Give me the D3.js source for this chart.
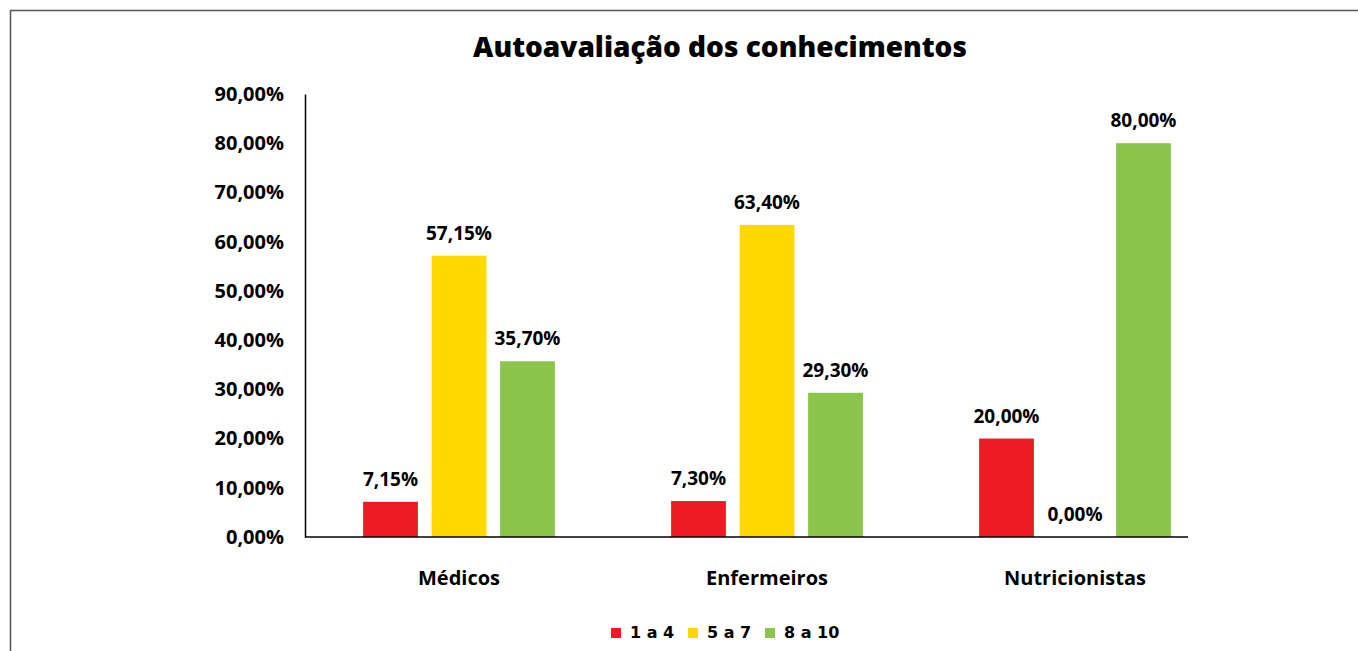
<!DOCTYPE html>
<html lang="pt">

<head>
    <meta charset="UTF-8">
    <title>Autoavaliação dos conhecimentos</title>
    <script src="https://d3js.org/d3.v7.min.js"></script>
    <style>
        body { margin: 0; background: #fff; }
    </style>
</head>

<body>
    <div id="chart"></div>

    <script>
        // data
        const groups = ["Médicos", "Enfermeiros", "Nutricionistas"];
        const seriesNames = ["1 a 4", "5 a 7", "8 a 10"];
        const val1a4 = [7.15, 7.30, 20.00];
        const val5a7 = [57.15, 63.40, 0.00];
        const val8a10 = [35.70, 29.30, 80.00];
        const yTicks = [0, 10, 20, 30, 40, 50, 60, 70, 80, 90];
        const colors = ["#ed1c24", "#ffd800", "#8cc54c"];

        const seriesValues = [val1a4, val5a7, val8a10];

        const width = 1358;
        const height = 651;
        const fontMain = "'Open Sans', sans-serif";

        const svg = d3.select("#chart")
            .append("svg")
            .attr("width", width)
            .attr("height", height)
            .attr("font-family", fontMain);

        // frame round the figure (runs off the right and bottom edges)
        svg.append("rect")
            .attr("x", 10.5)
            .attr("y", 10.5)
            .attr("width", width + 20)
            .attr("height", height + 20)
            .attr("fill", "none")
            .attr("stroke", "#555")
            .attr("stroke-width", 1.5);

        // title
        svg.append("text")
            .attr("x", 720)
            .attr("y", 57)
            .attr("text-anchor", "middle")
            .attr("font-size", 28)
            .attr("font-weight", 800)
            .text("Autoavaliação dos conhecimentos");

        // scales
        const x0 = d3.scaleBand()
            .domain(groups)
            .range([305, 1229]);

        const x1 = d3.scaleBand()
            .domain(seriesNames)
            .range([0, 205.5])
            .paddingInner(0.2)
            .paddingOuter(0.1);

        const y = d3.scaleLinear()
            .domain([0, 90])
            .range([537, 94]);

        const fmt = v => d3.format(".2f")(v).replace(".", ",") + "%";

        // y axis
        const yAxis = svg.append("g")
            .attr("transform", "translate(305,0)")
            .call(d3.axisLeft(y).tickValues(yTicks).tickSize(0).tickPadding(21).tickFormat(fmt));
        yAxis.select(".domain").attr("stroke", "#000").attr("stroke-width", 1.5);
        yAxis.selectAll("text")
            .attr("font-family", fontMain)
            .attr("font-size", 20)
            .attr("font-weight", 700)
            .attr("fill", "#000");

        // bars
        const rows = groups.map((g, i) => ({
            group: g,
            values: seriesNames.map((s, j) => ({ key: s, idx: j, value: seriesValues[j][i] }))
        }));

        const gGroup = svg.append("g")
            .selectAll("g")
            .data(rows)
            .join("g")
            .attr("transform", d => `translate(${x0(d.group) + x0.bandwidth() / 2 - 102.75},0)`);

        gGroup.selectAll("rect")
            .data(d => d.values)
            .join("rect")
            .attr("x", d => x1(d.key))
            .attr("y", d => y(d.value))
            .attr("width", x1.bandwidth())
            .attr("height", d => y(0) - y(d.value))
            .attr("fill", d => colors[d.idx]);

        gGroup.selectAll("text")
            .data(d => d.values)
            .join("text")
            .attr("x", d => x1(d.key) + x1.bandwidth() / 2)
            .attr("y", d => y(d.value) - 16)
            .attr("text-anchor", "middle")
            .attr("font-size", 19)
            .attr("font-weight", 700)
            .text(d => fmt(d.value));

        // x axis line
        svg.append("line")
            .attr("x1", 305)
            .attr("x2", 1188)
            .attr("y1", y(0))
            .attr("y2", y(0))
            .attr("stroke", "#000")
            .attr("stroke-width", 1.5);

        // category labels
        svg.append("g")
            .selectAll("text")
            .data(groups)
            .join("text")
            .attr("x", d => x0(d) + x0.bandwidth() / 2)
            .attr("y", 585)
            .attr("text-anchor", "middle")
            .attr("font-size", 20)
            .attr("font-weight", 700)
            .text(d => d);

        // legend
        const legendX = [611, 688, 765];
        const legend = svg.append("g")
            .selectAll("g")
            .data(seriesNames)
            .join("g")
            .attr("transform", (d, i) => `translate(${legendX[i]},628)`);

        legend.append("rect")
            .attr("width", 10)
            .attr("height", 10)
            .attr("fill", (d, i) => colors[i]);

        legend.append("text")
            .attr("x", 19)
            .attr("y", 10)
            .attr("font-family", "'DejaVu Sans', sans-serif")
            .attr("font-size", 16)
            .attr("font-weight", 700)
            .text(d => d);
    </script>
</body>

</html>
